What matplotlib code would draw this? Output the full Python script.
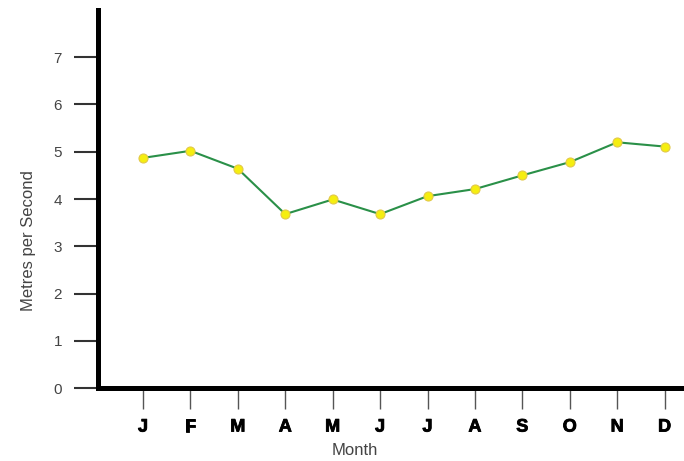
import numpy as np
import matplotlib
matplotlib.use("Agg")
import matplotlib.pyplot as plt
import matplotlib.patheffects as pe

months = ["J", "F", "M", "A", "M", "J", "J", "A", "S", "O", "N", "D"]
speed = [4.87, 5.02, 4.64, 3.68, 3.99, 3.68, 4.06, 4.21, 4.50, 4.78, 5.20, 5.11]
y_ticks = [0, 1, 2, 3, 4, 5, 6, 7]

plain = ["Liberation Sans", "DejaVu Sans"]

fig = plt.figure(figsize=(6.84, 4.61), dpi=100)
ax = fig.add_axes([98 / 684, 73 / 461, 586 / 684, 378 / 461])

x = np.arange(len(months))
ax.plot(x, speed, color="#2a9048", linewidth=1.5, zorder=2)
ax.plot(x, speed, linestyle="none", marker="o", markersize=6.5,
        markerfacecolor="#f5ee10", markeredgecolor="#e2c84a",
        markeredgewidth=0.8, zorder=3)

ax.set_xlim(-0.95, 11.41)
ax.set_ylim(0, 8)

ax.spines["top"].set_visible(False)
ax.spines["right"].set_visible(False)
for s in ["left", "bottom"]:
    ax.spines[s].set_linewidth(3.6)
    ax.spines[s].set_color("black")

ax.set_yticks(y_ticks)
ax.set_yticklabels([str(v) for v in y_ticks], family=plain, fontsize=11,
                   color="#444444")
ax.tick_params(axis="y", direction="out", length=17, width=1.5,
               color="#333333", pad=9)

ax.set_xticks(x)
ax.set_xticklabels(months, family=plain, fontweight="bold", fontsize=13,
                   color="black",
                   path_effects=[pe.withStroke(linewidth=0.6, foreground="black")])
ax.tick_params(axis="x", direction="out", length=15, width=1.0,
               color="#555555", pad=7)

ax.set_xlabel("Month", family=plain, fontsize=12, color="#444444")
ax.xaxis.set_label_coords(0.439, -0.146)
ax.set_ylabel("Metres per Second", family=plain, fontsize=12, color="#444444")
ax.yaxis.set_label_coords(-0.106, 0.39)

fig.savefig("out.png", dpi=100)
